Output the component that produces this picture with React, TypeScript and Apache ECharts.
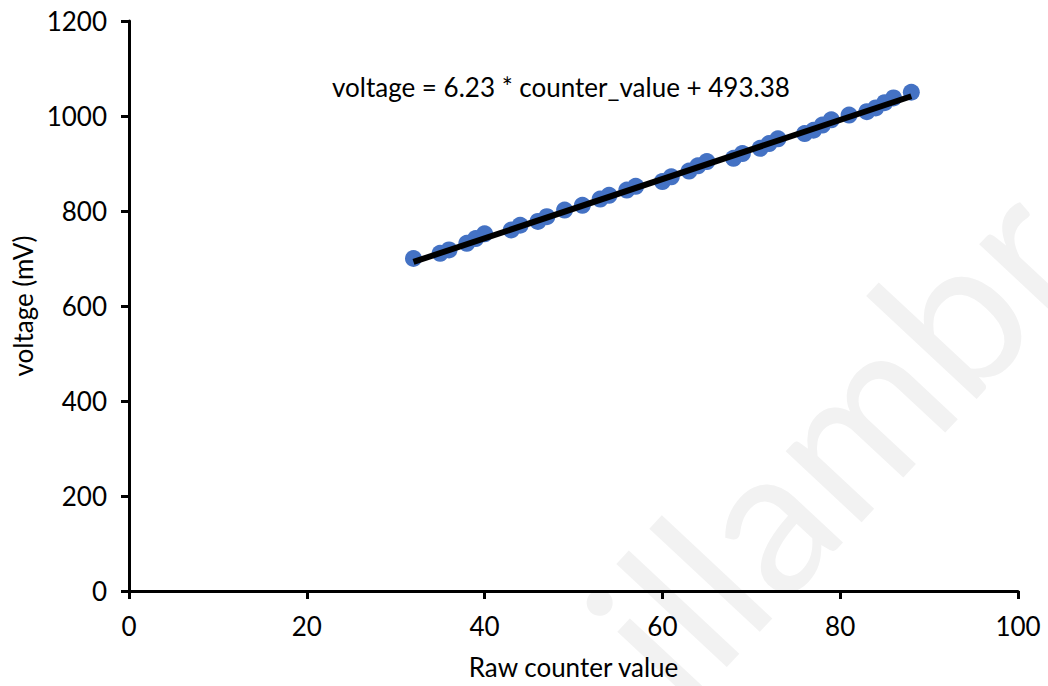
import React, { useEffect, useRef } from "react";
import * as echarts from "echarts";

// Raw counter readings and the measured voltage (mV) for each reading
const counterValues = [
  32, 35, 36, 38, 39, 40, 43, 44, 46, 47, 49, 51, 53, 54, 56, 57, 60, 61,
  63, 64, 65, 68, 69, 71, 72, 73, 76, 77, 78, 79, 81, 83, 84, 85, 86, 88,
];
const voltages = [
  700, 711, 718, 732, 742, 752, 760, 770, 778, 788, 802, 812, 825, 833, 844,
  852, 862, 872, 884, 895, 904, 911, 921, 932, 942, 952, 963, 970, 981, 992,
  1002, 1009, 1017, 1028, 1038, 1050,
];

// Linear fit: voltage = slope * counter_value + intercept
const slope = 6.23;
const intercept = 493.38;
const fitRange = [32, 88];

const equationText = "voltage = 6.23 * counter_value + 493.38";
const xAxisTitle = "Raw counter value";
const yAxisTitle = "voltage (mV)";
const watermarkText = "illambr";

const FONT = "Lato, 'Open Sans', sans-serif";
const FONT_SIZE = 26;

export default function App() {
  const ref = useRef<HTMLDivElement>(null);

  useEffect(() => {
    if (!ref.current) return;
    const chart = echarts.init(ref.current, undefined, { renderer: "svg" });

    const points = counterValues.map((x, i) => [x, voltages[i]]);
    const fitLine = fitRange.map((x) => [x, slope * x + intercept]);

    const axisCommon = {
      type: "value" as const,
      splitLine: { show: false },
      axisLine: { show: true, lineStyle: { color: "#000", width: 3 } },
      axisTick: {
        show: true,
        inside: false,
        length: 8,
        lineStyle: { color: "#000", width: 3 },
      },
      axisLabel: {
        color: "#000",
        fontSize: FONT_SIZE,
        fontFamily: FONT,
        formatter: (v: number) => String(v),
      },
      nameLocation: "middle" as const,
      nameTextStyle: {
        color: "#000",
        fontSize: FONT_SIZE,
        fontFamily: FONT,
      },
    };

    chart.setOption({
      animation: false,
      backgroundColor: "#fff",
      grid: {
        left: 129,
        right: 30,
        top: 21,
        bottom: 95,
        containLabel: false,
        outerBoundsMode: "none",
      },
      xAxis: {
        ...axisCommon,
        min: 0,
        max: 100,
        interval: 20,
        name: xAxisTitle,
        nameGap: 63,
        axisLabel: { ...axisCommon.axisLabel, margin: 22 },
      },
      yAxis: {
        ...axisCommon,
        min: 0,
        max: 1200,
        interval: 200,
        name: yAxisTitle,
        nameGap: 76,
        nameRotate: 90,
        axisLabel: { ...axisCommon.axisLabel, margin: 22 },
      },
      graphic: [
        {
          type: "text",
          z: -10,
          x: 700,
          y: 730,
          rotation: (47 * Math.PI) / 180,
          style: {
            text: watermarkText,
            fill: "#f2f2f2",
            font: `205px ${FONT}`,
            textAlign: "left",
            textVerticalAlign: "bottom",
          },
        },
        {
          type: "text",
          left: 332,
          top: 74,
          z: 10,
          style: {
            text: equationText,
            fill: "#000",
            font: `${FONT_SIZE}px ${FONT}`,
          },
        },
      ],
      series: [
        {
          type: "scatter",
          data: points,
          symbol: "circle",
          symbolSize: 17,
          itemStyle: { color: "#4472C4", opacity: 1 },
          z: 2,
        },
        {
          type: "line",
          data: fitLine,
          symbol: "none",
          lineStyle: { color: "#000", width: 6 },
          z: 3,
        },
      ],
    });

    return () => chart.dispose();
  }, []);

  return (
    <div
      ref={ref}
      style={{ position: "fixed", left: 0, top: 0, width: 1048, height: 686 }}
    />
  );
}
